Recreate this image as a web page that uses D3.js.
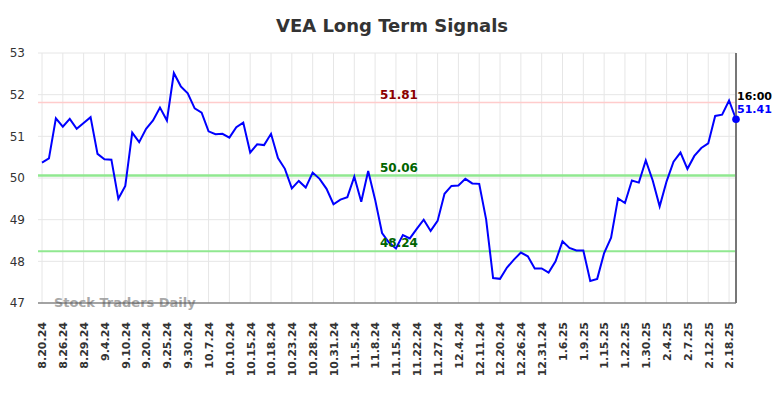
<!DOCTYPE html>
<html>
<head>
<meta charset="utf-8">
<script src="https://cdn.jsdelivr.net/npm/d3@7"></script>
<style>
  body { margin: 0; background: #fff; }
  svg { font-family: "DejaVu Sans", sans-serif; }
</style>
</head>
<body>
<div class="chart"></div>
<script>
// daily closes, one per session
var closes = [
  50.37, 50.47, 51.43, 51.23, 51.42, 51.18, 51.32, 51.46, 50.58, 50.45,
  50.44, 49.50, 49.81, 51.09, 50.86, 51.18, 51.38, 51.69, 51.38, 52.52,
  52.20, 52.03, 51.67, 51.57, 51.12, 51.05, 51.06, 50.97, 51.22, 51.33,
  50.61, 50.81, 50.79, 51.06, 50.48, 50.22, 49.75, 49.93, 49.77, 50.13,
  49.98, 49.74, 49.37, 49.48, 49.54, 50.03, 49.43, 50.17, 49.48, 48.68,
  48.45, 48.31, 48.63, 48.55, 48.78, 49.00, 48.73, 48.97, 49.62, 49.81,
  49.82, 49.98, 49.87, 49.86, 49.00, 47.60, 47.58, 47.85, 48.04, 48.21,
  48.12, 47.83, 47.83, 47.73, 48.00, 48.48, 48.32, 48.26, 48.26, 47.53,
  47.58, 48.20, 48.57, 49.51, 49.40, 49.94, 49.89, 50.42, 49.94, 49.32,
  49.92, 50.39, 50.61, 50.22, 50.53, 50.72, 50.83, 51.49, 51.52, 51.86,
  51.41
];

// one label every third session
var tickLabels = [
  "8.20.24", "8.26.24", "8.29.24", "9.4.24", "9.10.24", "9.20.24", "9.25.24",
  "9.30.24", "10.7.24", "10.10.24", "10.15.24", "10.18.24", "10.23.24",
  "10.28.24", "10.31.24", "11.5.24", "11.8.24", "11.15.24", "11.22.24",
  "11.27.24", "12.4.24", "12.11.24", "12.20.24", "12.26.24", "12.31.24",
  "1.6.25", "1.9.25", "1.15.25", "1.22.25", "1.30.25", "2.4.25", "2.7.25",
  "2.12.25", "2.18.25"
];

var yTicks = [47, 48, 49, 50, 51, 52, 53];

var levelValues = [51.81, 50.06, 48.24];
var levelKinds = ["resistance", "pivot", "support"];

var lastTime = "16:00";

var svgWidth = 784;
var svgHeight = 398;
var plotLeft = 42, plotRight = 736, plotTop = 53, plotBottom = 303;

var svg = d3.select(".chart")
  .append("svg")
  .attr("width", svgWidth)
  .attr("height", svgHeight);

var x = d3.scalePoint()
  .domain(d3.range(closes.length))
  .range([plotLeft, plotRight]);

var y = d3.scaleLinear()
  .domain([47, 53])
  .range([plotBottom, plotTop]);

var tickIdx = tickLabels.map((d, i) => i * 3);

// grid
svg.append("g")
  .selectAll("line")
  .data(tickIdx)
  .enter()
  .append("line")
  .attr("x1", d => x(d)).attr("x2", d => x(d))
  .attr("y1", plotTop).attr("y2", plotBottom)
  .attr("stroke", "#e6e6e6")
  .attr("stroke-width", 1);

svg.append("g")
  .selectAll("line")
  .data(yTicks)
  .enter()
  .append("line")
  .attr("x1", plotLeft - 4).attr("x2", plotRight)
  .attr("y1", d => y(d)).attr("y2", d => y(d))
  .attr("stroke", "#e6e6e6")
  .attr("stroke-width", 1);

// y labels
var leftAxis = d3.axisLeft(y)
  .tickValues(yTicks)
  .tickFormat(d3.format("d"))
  .tickSize(0)
  .tickPadding(0);
var yAxisG = svg.append("g")
  .attr("transform", `translate(25, 0)`)
  .call(leftAxis);
yAxisG.select(".domain").remove();
yAxisG.selectAll("text")
  .attr("font-size", 12)
  .attr("font-family", "DejaVu Sans")
  .attr("fill", "#333");

// level lines
var levelColor = { resistance: "#ffcccc", pivot: "#90e890", support: "#90e890" };
var levelWidth = { resistance: 1.5, pivot: 2.5, support: 2 };
var levelText = { resistance: "#8b0000", pivot: "#006400", support: "#006400" };

levelValues.forEach(function(v, i) {
  var k = levelKinds[i];
  svg.append("line")
    .attr("x1", plotLeft - 4).attr("x2", plotRight)
    .attr("y1", y(v)).attr("y2", y(v))
    .attr("stroke", levelColor[k])
    .attr("stroke-width", levelWidth[k]);
});

// watermark
svg.append("text")
  .attr("x", 54)
  .attr("y", 307)
  .attr("font-size", 13)
  .attr("font-weight", "bold")
  .attr("fill", "#999")
  .attr("opacity", 0.85)
  .text("Stock Traders Daily");

// price line
var line = d3.line()
  .x((d, i) => x(i))
  .y(d => y(d));

svg.append("path")
  .datum(closes)
  .attr("d", line)
  .attr("fill", "none")
  .attr("stroke", "#0000ff")
  .attr("stroke-width", 2)
  .attr("stroke-linejoin", "miter");

// level labels
levelValues.forEach(function(v, i) {
  var k = levelKinds[i];
  svg.append("text")
    .attr("x", 399)
    .attr("y", y(v) - 4)
    .attr("text-anchor", "middle")
    .attr("font-size", 12)
    .attr("font-weight", "bold")
    .attr("fill", levelText[k])
    .text(v.toFixed(2));
});

// x axis
var bottomAxis = d3.axisBottom(x)
  .tickValues(tickIdx)
  .tickFormat((d, i) => tickLabels[i])
  .tickSize(0)
  .tickPadding(0);

var xAxisG = svg.append("g")
  .attr("transform", `translate(0, ${plotBottom})`)
  .call(bottomAxis);
xAxisG.select(".domain").remove();
xAxisG.selectAll("text")
  .attr("font-size", 11)
  .attr("font-weight", "bold")
  .attr("font-family", "DejaVu Sans")
  .attr("fill", "#333")
  .attr("text-anchor", "end")
  .attr("transform", "rotate(-90)")
  .attr("x", -19)
  .attr("y", 0)
  .attr("dy", "0.35em");

svg.append("line")
  .attr("x1", plotLeft - 4).attr("x2", plotRight)
  .attr("y1", plotBottom).attr("y2", plotBottom)
  .attr("stroke", "#555")
  .attr("stroke-width", 1.2);

svg.append("line")
  .attr("x1", plotRight).attr("x2", plotRight)
  .attr("y1", plotTop).attr("y2", plotBottom)
  .attr("stroke", "#777")
  .attr("stroke-width", 2);

// last point
var lastI = closes.length - 1;
svg.append("circle")
  .attr("cx", x(lastI))
  .attr("cy", y(closes[lastI]))
  .attr("r", 3.8)
  .attr("fill", "#0000ff");

svg.append("text")
  .attr("x", plotRight + 1)
  .attr("y", 100)
  .attr("font-size", 11)
  .attr("font-weight", "bold")
  .attr("fill", "#000")
  .text(lastTime);

svg.append("text")
  .attr("x", plotRight + 1)
  .attr("y", 113)
  .attr("font-size", 11)
  .attr("font-weight", "bold")
  .attr("fill", "#0000ff")
  .text(closes[lastI].toFixed(2));

// title
svg.append("text")
  .attr("x", svgWidth / 2)
  .attr("y", 32)
  .attr("text-anchor", "middle")
  .attr("font-size", 18)
  .attr("font-weight", "bold")
  .attr("fill", "#333")
  .text("VEA Long Term Signals");
</script>
</body>
</html>
